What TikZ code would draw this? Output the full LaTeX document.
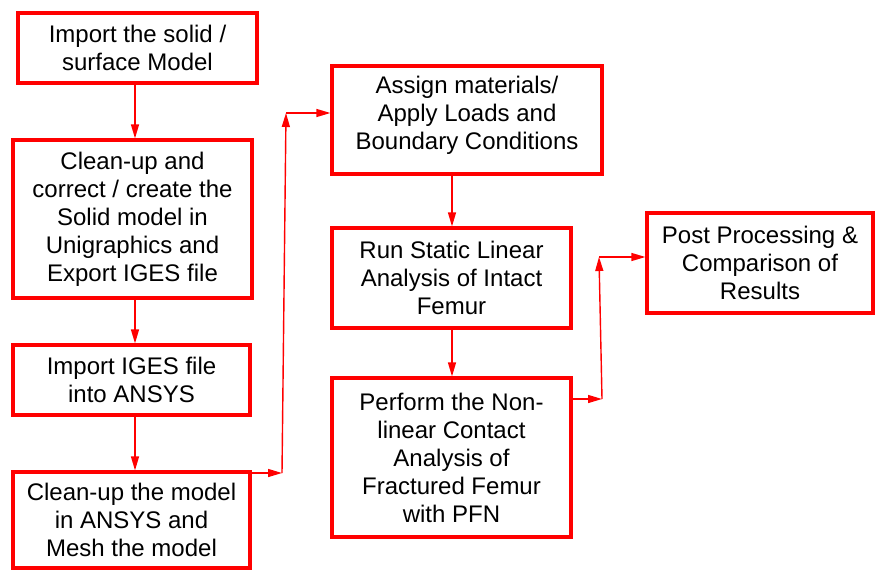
\documentclass[tikz,border=0pt]{standalone}
\usepackage{fontspec}
\setmainfont{Liberation Sans}
\usetikzlibrary{arrows.meta}
\begin{document}
\begin{tikzpicture}[x=1pt,y=-1pt,
  boxtext/.style={align=center, inner sep=0pt, font=\fontsize{24}{28}\selectfont},
  stepbox/.style={boxtext, draw=red, line width=3.2pt},
  flow/.style={draw=red, line width=1.4pt, -{Triangle[length=14pt,width=8pt]}}]
\fill[white] (0,0) rectangle (875,570);
\useasboundingbox (0,0) rectangle (875,570);

% left column
\node[stepbox, minimum width=239pt, minimum height=70pt] (b1) at (137.5,48)
  {Import the solid /\\surface Model};
\node[stepbox, minimum width=239pt, minimum height=158pt] (b2) at (132.5,219)
  {Clean-up and\\correct / create the\\Solid model in\\Unigraphics and\\Export IGES file};
\node[stepbox, minimum width=237pt, minimum height=70pt] (b3) at (131.5,380)
  {Import IGES file\\into ANSYS};
\node[stepbox, minimum width=237pt, minimum height=96pt] (b4) at (131.5,520)
  {Clean-up the model\\in ANSYS and\\Mesh the model};

% middle column (the first box has its text set a little high)
\node[stepbox, minimum width=270pt, minimum height=108pt] (b5) at (467,120) {};
\node[boxtext] (t5) at (467,115)
  {Assign materials/\\Apply Loads and\\Boundary Conditions};
\node[stepbox, minimum width=239pt, minimum height=100pt] (b6) at (451.5,278)
  {Run Static Linear\\Analysis of Intact\\Femur};
\node[stepbox, minimum width=239pt, minimum height=159pt] (b7) at (451.5,457.5)
  {Perform the Non-\\linear Contact\\Analysis of\\Fractured Femur\\with PFN};

% right column
\node[stepbox, minimum width=226pt, minimum height=100pt] (b8) at (760,263)
  {Post Processing \&\\Comparison of\\Results};

% vertical flow lines
\coordinate (c1) at (135,0);
\coordinate (c2) at (452,0);
\draw[flow] (b1.south -| c1) -- (b2.north -| c1);
\draw[flow] (b2.south -| c1) -- (b3.north -| c1);
\draw[flow] (b3.south -| c1) -- (b4.north -| c1);
\draw[flow] (b5.south -| c2) -- (b6.north -| c2);
\draw[flow] (b6.south -| c2) -- (b7.north -| c2);

% elbow connectors
\coordinate (k1) at (282,473);
\coordinate (k2) at (286,113);
\draw[flow] (b4.east |- k1) -- (k1);
\draw[flow] (k1) -- (k2);
\draw[flow] (k2) -- (k2 -| b5.west);

\coordinate (k3) at (602,399);
\coordinate (k4) at (599,257);
\draw[flow] (b7.east |- k3) -- (k3);
\draw[flow] (k3) -- (k4);
\draw[flow] (k4) -- (k4 -| b8.west);
\end{tikzpicture}
\end{document}
